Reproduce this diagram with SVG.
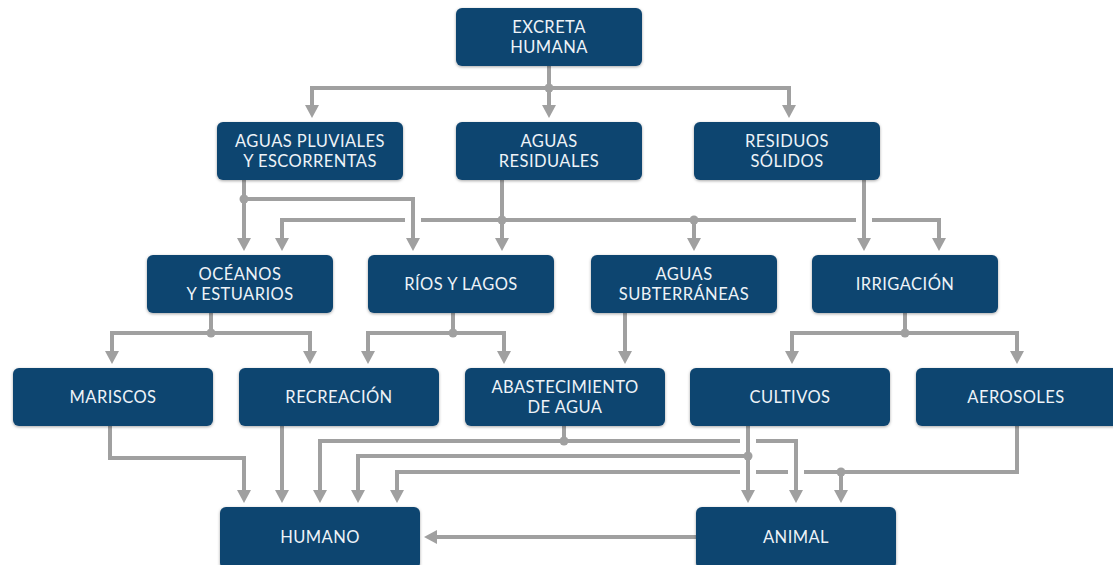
<svg xmlns="http://www.w3.org/2000/svg" width="1113" height="565" viewBox="0 0 1113 565">
  <defs>
    <filter id="sh" x="-10%" y="-20%" width="120%" height="140%">
      <feDropShadow dx="0" dy="1" stdDeviation="1.6" flood-color="#000" flood-opacity="0.35"/>
    </filter>
    <marker id="ah" viewBox="0 0 13 14" refX="0" refY="7" markerWidth="13" markerHeight="14" markerUnits="userSpaceOnUse" orient="auto">
      <path d="M0,0 L13,7 L0,14 Z" fill="#a0a0a0"/>
    </marker>
    <style>
      .box { fill: #0b4470; filter: url(#sh); }
      .lbl { font-family: Lato, "Open Sans", "Liberation Sans", sans-serif; font-size: 16.5px; letter-spacing: 0.45px; fill: #eef3f8; text-anchor: middle; }
      .c { fill: none; stroke: #a0a0a0; stroke-width: 4; }
      .a { marker-end: url(#ah); }
      .dot { fill: #a0a0a0; }
    </style>
  </defs>
  <rect width="1113" height="565" fill="#ffffff"/>

  <g id="connectors">
    <path class="c a" d="M549,66 V105"/>
    <path class="c a" d="M549,88 H312 V105"/>
    <path class="c a" d="M549,88 H789 V105"/>
    <circle class="dot" cx="549" cy="88" r="4.5"/>

    <path class="c a" d="M244,180 V238"/>
    <path class="c a" d="M244,199 H413 V238"/>
    <circle class="dot" cx="244" cy="199" r="4.5"/>

    <path class="c a" d="M502,180 V238"/>
    <path class="c a" d="M502,220 H421 M405,220 H282 V238"/>
    <path class="c a" d="M502,220 H856 M872,220 H939 V238"/>
    <path class="c a" d="M694,220 V238"/>
    <circle class="dot" cx="502" cy="220" r="4.5"/>
    <circle class="dot" cx="694" cy="220" r="4.5"/>

    <path class="c a" d="M864,180 V238"/>

    <path class="c a" d="M211,313 V333 H112 V351"/>
    <path class="c a" d="M211,333 H310 V351"/>
    <circle class="dot" cx="211" cy="333" r="4.5"/>

    <path class="c a" d="M453,313 V333 H368 V351"/>
    <path class="c a" d="M453,333 H504 V351"/>
    <circle class="dot" cx="453" cy="333" r="4.5"/>

    <path class="c a" d="M625,313 V351"/>

    <path class="c a" d="M905,313 V333 H792 V351"/>
    <path class="c a" d="M905,333 H1017 V351"/>
    <circle class="dot" cx="905" cy="333" r="4.5"/>

    <path class="c a" d="M110,426 V458 H244 V490"/>
    <path class="c a" d="M282,426 V490"/>

    <path class="c a" d="M564,426 V441 H320 V490"/>
    <path class="c a" d="M564,441 H740 M756,441 H796 V490"/>
    <circle class="dot" cx="564" cy="441" r="4.5"/>

    <path class="c a" d="M748,426 V490"/>
    <path class="c a" d="M748,456 H358 V490"/>
    <circle class="dot" cx="748" cy="456" r="4.5"/>

    <path class="c a" d="M1017,426 V472 H804 M788,472 H756 M740,472 H397 V490"/>
    <path class="c a" d="M841,472 V490"/>
    <circle class="dot" cx="841" cy="472" r="4.5"/>

    <path class="c a" d="M696,537 H437"/>
  </g>

  <g id="excreta"><rect class="box" x="456" y="8" width="186" height="58" rx="6"/><text class="lbl" x="549" y="33">EXCRETA</text><text class="lbl" x="549" y="53">HUMANA</text></g>

  <g id="pluviales"><rect class="box" x="217" y="122" width="186" height="58" rx="6"/><text class="lbl" x="310" y="147">AGUAS PLUVIALES</text><text class="lbl" x="310" y="167">Y ESCORRENTAS</text></g>
  <g id="residuales"><rect class="box" x="456" y="122" width="186" height="58" rx="6"/><text class="lbl" x="549" y="147">AGUAS</text><text class="lbl" x="549" y="167">RESIDUALES</text></g>
  <g id="residuos"><rect class="box" x="694" y="122" width="186" height="58" rx="6"/><text class="lbl" x="787" y="147">RESIDUOS</text><text class="lbl" x="787" y="167">SÓLIDOS</text></g>

  <g id="oceanos"><rect class="box" x="147" y="255" width="186" height="58" rx="6"/><text class="lbl" x="240" y="280">OCÉANOS</text><text class="lbl" x="240" y="300">Y ESTUARIOS</text></g>
  <g id="rios"><rect class="box" x="368" y="255" width="186" height="58" rx="6"/><text class="lbl" x="461" y="290">RÍOS Y LAGOS</text></g>
  <g id="subterraneas"><rect class="box" x="591" y="255" width="186" height="58" rx="6"/><text class="lbl" x="684" y="280">AGUAS</text><text class="lbl" x="684" y="300">SUBTERRÁNEAS</text></g>
  <g id="irrigacion"><rect class="box" x="812" y="255" width="186" height="58" rx="6"/><text class="lbl" x="905" y="290">IRRIGACIÓN</text></g>

  <g id="mariscos"><rect class="box" x="13" y="368" width="200" height="58" rx="6"/><text class="lbl" x="113" y="403">MARISCOS</text></g>
  <g id="recreacion"><rect class="box" x="239" y="368" width="200" height="58" rx="6"/><text class="lbl" x="339" y="403">RECREACIÓN</text></g>
  <g id="abastecimiento"><rect class="box" x="465" y="368" width="200" height="58" rx="6"/><text class="lbl" x="565" y="393">ABASTECIMIENTO</text><text class="lbl" x="565" y="413">DE AGUA</text></g>
  <g id="cultivos"><rect class="box" x="690" y="368" width="200" height="58" rx="6"/><text class="lbl" x="790" y="403">CULTIVOS</text></g>
  <g id="aerosoles"><rect class="box" x="916" y="368" width="204" height="58" rx="6"/><text class="lbl" x="1016" y="403">AEROSOLES</text></g>

  <g id="humano"><rect class="box" x="220" y="507" width="200" height="62" rx="6"/><text class="lbl" x="320" y="543">HUMANO</text></g>
  <g id="animal"><rect class="box" x="696" y="507" width="200" height="62" rx="6"/><text class="lbl" x="796" y="543">ANIMAL</text></g>
</svg>
